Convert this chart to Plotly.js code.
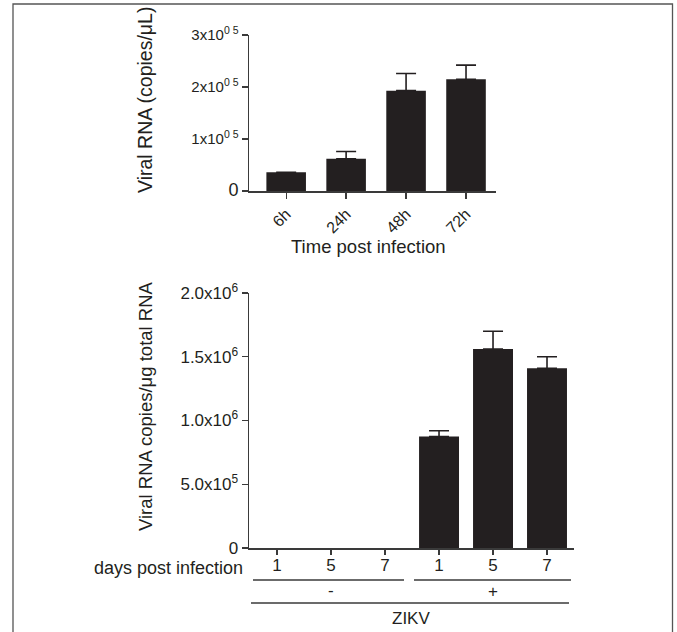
<!DOCTYPE html>
<html>
<head>
<meta charset="utf-8">
<script src="https://cdn.plot.ly/plotly-3.0.1.min.js"></script>
<style>html,body{margin:0;padding:0;background:#fff;}#chart{width:677px;height:632px;}</style>
</head>
<body>
<div id="chart"></div>
<script>
// Top panel data
var timeLabels = ["6h", "24h", "48h", "72h"];
var timeValues = [36000, 62000, 193000, 215000];
var timeErrors = [0, 14000, 33000, 27000];
var topTickVals = [0, 100000, 200000, 300000];
var topTickText = ["<span style=\"font-size:18px\">0</span>", "1x10<sup>0 5</sup>", "2x10<sup>0 5</sup>", "3x10<sup>0 5</sup>"];

// Bottom panel data
var dayLabels = ["1", "5", "7", "1", "5", "7"];
var dayValues = [0, 0, 0, 875000, 1560000, 1410000];
var dayErrors = [null, null, null, 45000, 140000, 90000];
var botTickVals = [0, 500000, 1000000, 1500000, 2000000];
var botTickText = ["0", "5.0x10<sup>5</sup>", "1.0x10<sup>6</sup>", "1.5x10<sup>6</sup>", "2.0x10<sup>6</sup>"];
var groupLabels = ["-", "+"];
var zikvLabel = "ZIKV";

var W = 677, H = 632;
function px(x) { return x / W; }
function py(y) { return 1 - y / H; }

var ink = "#231f20";
var axisCol = "#3a3a3a";
var fontFam = "Liberation Sans, Arial, Helvetica, sans-serif";

var topIdx = timeLabels.map(function (_, i) { return i; });
var botIdx = dayLabels.map(function (_, i) { return i; });
function errUp(a) { return a.map(function (v) { return v == null ? NaN : v; }); }
function errDown(a) { return a.map(function (v) { return v == null ? NaN : 0; }); }

var traces = [
  {
    type: "bar", x: topIdx, y: timeValues, xaxis: "x", yaxis: "y",
    width: 0.66, marker: { color: ink, line: { width: 0 } },
    error_y: { type: "data", symmetric: false, array: errUp(timeErrors), arrayminus: errDown(timeErrors),
      color: ink, thickness: 1.6, width: 10, visible: true },
    hoverinfo: "none"
  },
  {
    type: "bar", x: botIdx, y: dayValues, xaxis: "x2", yaxis: "y2",
    width: 0.74, marker: { color: ink, line: { width: 0 } },
    error_y: { type: "data", symmetric: false, array: errUp(dayErrors), arrayminus: errDown(dayErrors),
      color: ink, thickness: 1.6, width: 10, visible: true },
    hoverinfo: "none"
  }
];

var axCommon = {
  showline: true, linecolor: axisCol, linewidth: 1.5, showgrid: false, zeroline: false,
  ticks: "outside", ticklen: 6, tickwidth: 1.3, tickcolor: axisCol,
  tickfont: { family: fontFam, size: 15, color: ink }, fixedrange: true
};

function ann(text, x, y, size, extra) {
  var a = { text: text, xref: "paper", yref: "paper", x: px(x), y: py(y),
    xanchor: "center", yanchor: "middle", showarrow: false,
    font: { family: fontFam, size: size, color: ink } };
  return Object.assign(a, extra || {});
}

var layout = {
  width: W, height: H,
  margin: { l: 0, r: 0, t: 0, b: 0 },
  paper_bgcolor: "#fff", plot_bgcolor: "rgba(0,0,0,0)",
  showlegend: false,
  xaxis: Object.assign({}, axCommon, {
    domain: [px(249), px(496)], anchor: "y",
    range: [-0.62, 3.5], tickmode: "array", tickvals: topIdx, ticktext: timeLabels,
    tickangle: -45, tickfont: { family: fontFam, size: 16, color: ink }
  }),
  yaxis: Object.assign({}, axCommon, {
    domain: [py(191), py(35)], anchor: "x",
    range: [0, 300000], tickmode: "array", tickvals: topTickVals, ticktext: topTickText
  }),
  xaxis2: Object.assign({}, axCommon, {
    domain: [px(249), px(574)], anchor: "y2",
    range: [-0.52, 5.5], tickmode: "array", tickvals: botIdx, ticktext: dayLabels,
    ticklen: 5, ticklabelstandoff: -4, tickfont: { family: fontFam, size: 17, color: ink }
  }),
  yaxis2: Object.assign({}, axCommon, {
    domain: [py(548), py(293)], anchor: "x2",
    range: [0, 2000000], tickmode: "array", tickvals: botTickVals, ticktext: botTickText,
    tickfont: { family: fontFam, size: 17, color: ink }
  }),
  shapes: [
    { type: "rect", xref: "paper", yref: "paper", x0: px(13), x1: px(672.5), y0: py(660), y1: py(4),
      line: { color: "#555", width: 1.3 }, fillcolor: "rgba(0,0,0,0)" },
    { type: "line", xref: "paper", yref: "paper", x0: px(253), x1: px(404), y0: py(580), y1: py(580),
      line: { color: axisCol, width: 1.3 } },
    { type: "line", xref: "paper", yref: "paper", x0: px(414), x1: px(571), y0: py(580), y1: py(580),
      line: { color: axisCol, width: 1.3 } },
    { type: "line", xref: "paper", yref: "paper", x0: px(251), x1: px(569), y0: py(603), y1: py(603),
      line: { color: axisCol, width: 1.3 } }
  ],
  annotations: [
    ann("Viral RNA (copies/μL)", 145, 100, 19.5, { textangle: -90 }),
    ann("Time post infection", 368, 246, 18.5),
    ann("Viral RNA copies/μg total RNA", 145, 406, 18.5, { textangle: -90 }),
    ann("days post infection", 245, 568, 18, { xanchor: "right" }),
    ann(groupLabels[0], 331, 590, 17),
    ann(groupLabels[1], 493, 591, 17),
    ann(zikvLabel, 411, 618, 17)
  ]
};

Plotly.newPlot("chart", traces, layout, { displayModeBar: false, staticPlot: true });
</script>
</body>
</html>
